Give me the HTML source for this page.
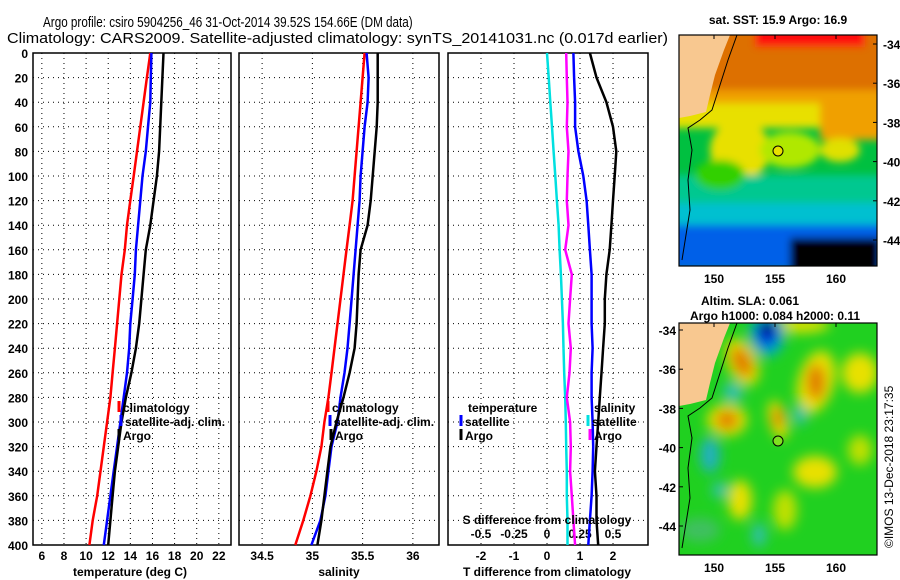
<!DOCTYPE html>
<html><head><meta charset="utf-8">
<style>
html,body{margin:0;padding:0;background:#fff;}
svg{display:block;font-family:"Liberation Sans",Arial,sans-serif;}
.t{font-weight:bold;font-size:12px;fill:#000;}
.g{stroke:#000;stroke-width:1;stroke-dasharray:1,4;}
</style></head>
<body>
<svg id="fig" width="900" height="580" viewBox="0 0 900 580" xmlns="http://www.w3.org/2000/svg">
<defs>
<filter id="blur4" x="-20%" y="-20%" width="140%" height="140%"><feGaussianBlur stdDeviation="4"/></filter>
<filter id="blur6" x="-30%" y="-30%" width="160%" height="160%"><feGaussianBlur stdDeviation="6"/></filter>
<clipPath id="clipM1"><rect x="679" y="35" width="198" height="231"/></clipPath>
<clipPath id="clipM2"><rect x="679" y="323" width="198" height="232"/></clipPath>
</defs>
<text x="0" y="0" font-size="15" transform="translate(43,27) scale(0.78,1)">Argo profile: csiro 5904256_46 31-Oct-2014 39.52S 154.66E (DM data)</text>
<text x="7" y="43" font-size="15" textLength="661" lengthAdjust="spacingAndGlyphs">Climatology: CARS2009. Satellite-adjusted climatology: synTS_20141031.nc (0.017d earlier)</text>
<g id="panels"></g>

<!-- SST map -->
<g>
<g clip-path="url(#clipM1)">
<rect x="679" y="35" width="198" height="231" fill="#00c040"/>
<g filter="url(#blur4)">
<rect x="660" y="20" width="240" height="75" fill="#dd7000"/>
<rect x="755" y="25" width="110" height="22" fill="#ff1010"/>
<rect x="660" y="90" width="240" height="15" fill="#f0a000"/>
<rect x="660" y="103" width="240" height="25" fill="#e8e000"/>
<rect x="820" y="100" width="80" height="40" fill="#f0a000"/>
<ellipse cx="740" cy="150" rx="30" ry="30" fill="#e8e000"/>
<ellipse cx="790" cy="150" rx="30" ry="18" fill="#b0e800"/>
<ellipse cx="840" cy="150" rx="20" ry="12" fill="#e0e000"/>
<rect x="660" y="175" width="240" height="30" fill="#00c890"/>
<ellipse cx="720" cy="175" rx="25" ry="15" fill="#30d000"/>
<rect x="660" y="203" width="240" height="22" fill="#00c0d0"/>
<rect x="660" y="225" width="240" height="45" fill="#0060e8"/>
<rect x="790" y="238" width="90" height="35" fill="#000"/>
</g>
<polygon points="679,35 730,35 724,50 715,75 710,95 706,112 690,116 679,118" fill="#f8c890"/>
<polyline points="737,35 728,60 720,85 712,110 700,120 688,128 692,150 688,180 690,210 682,260" fill="none" stroke="#000" stroke-width="1"/>
</g>
<circle cx="778" cy="151" r="5" fill="#e8e000" stroke="#000" stroke-width="1"/>
<rect x="679" y="35" width="198" height="231" fill="none" stroke="#000" stroke-width="1.2"/>
</g>
<text class="t" x="778" y="24" text-anchor="middle" font-size="13">sat. SST: 15.9 Argo: 16.9</text>

<!-- Altimetry map -->
<g>
<g clip-path="url(#clipM2)">
<rect x="679" y="323" width="198" height="232" fill="#20d020"/>
<g filter="url(#blur6)">
<ellipse cx="800" cy="325" rx="30" ry="8" fill="#e0e000"/>
<ellipse cx="767" cy="335" rx="18" ry="22" fill="#00b0c0"/>
<ellipse cx="767" cy="333" rx="11" ry="14" fill="#0020e0"/>
<ellipse cx="767" cy="328" rx="6" ry="7" fill="#000"/>
<ellipse cx="742" cy="362" rx="15" ry="25" fill="#e8e000" transform="rotate(-25 742 362)"/>
<ellipse cx="742" cy="362" rx="9" ry="16" fill="#e07800" transform="rotate(-25 742 362)"/>
<ellipse cx="816" cy="382" rx="18" ry="32" fill="#e8e000" transform="rotate(15 816 382)"/>
<ellipse cx="816" cy="382" rx="9" ry="18" fill="#e07800"/>
<ellipse cx="727" cy="420" rx="20" ry="16" fill="#e8e000"/>
<ellipse cx="727" cy="420" rx="11" ry="9" fill="#e07800"/>
<ellipse cx="778" cy="420" rx="9" ry="20" fill="#e8e000" transform="rotate(-15 778 420)"/>
<ellipse cx="778" cy="418" rx="5" ry="11" fill="#e07800"/>
<ellipse cx="860" cy="373" rx="18" ry="20" fill="#e8e000"/>
<ellipse cx="815" cy="472" rx="22" ry="16" fill="#e8e000"/>
<ellipse cx="740" cy="500" rx="12" ry="20" fill="#e8e000"/>
<ellipse cx="785" cy="510" rx="12" ry="20" fill="#c0e000"/>
<ellipse cx="860" cy="450" rx="12" ry="15" fill="#c0e000"/>
<ellipse cx="710" cy="455" rx="10" ry="18" fill="#20b0c0"/>
<ellipse cx="733" cy="392" rx="10" ry="10" fill="#30c0b0"/>
<ellipse cx="800" cy="415" rx="7" ry="10" fill="#30c0b0"/>
<ellipse cx="720" cy="490" rx="8" ry="8" fill="#30c0b0"/>
<ellipse cx="759" cy="535" rx="7" ry="12" fill="#30c0b0"/>
<ellipse cx="700" cy="530" rx="20" ry="12" fill="#40c060"/>
</g>
<polygon points="679,323 730,323 724,338 715,363 710,383 706,400 690,404 679,406" fill="#f8c890"/>
<polyline points="737,323 728,348 720,373 712,398 700,408 688,416 692,438 688,468 690,498 682,548" fill="none" stroke="#000" stroke-width="1"/>
</g>
<circle cx="778" cy="441" r="5" fill="#80e020" stroke="#000" stroke-width="1"/>
<rect x="679" y="323" width="198" height="232" fill="none" stroke="#000" stroke-width="1.2"/>
</g>
<text class="t" x="750" y="305" text-anchor="middle" font-size="13">Altim. SLA: 0.061</text>
<text class="t" x="775" y="320" text-anchor="middle" font-size="13">Argo h1000: 0.084 h2000: 0.11</text>
<text x="893" y="548" font-size="12" transform="rotate(-90 893 548)">©IMOS 13-Dec-2018 23:17:35</text>
<g id="maps"></g>
</svg>

<script>
// ---- data ----
var depths = [0,20,40,60,80,100,120,140,160,180,200,220,240,260,280,300,320,340,360,380,400];
var climT = [15.8,15.5,15.2,14.9,14.6,14.3,14.0,13.7,13.5,13.2,13.0,12.8,12.6,12.4,12.2,11.9,11.6,11.3,11.0,10.6,10.3];
var satT  = [15.9,15.85,15.8,15.6,15.4,15.1,14.9,14.7,14.5,14.4,14.2,14.0,13.9,13.7,13.4,13.1,12.8,12.5,12.2,11.9,11.6];
var argoT = [17.0,16.9,16.8,16.7,16.6,16.4,16.1,15.8,15.4,15.2,15.0,14.8,14.5,14.1,13.6,13.2,12.9,12.6,12.4,12.2,12.0];
var climS = [35.52,35.50,35.48,35.46,35.44,35.42,35.40,35.37,35.34,35.31,35.28,35.25,35.22,35.19,35.16,35.12,35.09,35.04,34.98,34.91,34.83];
var satS  = [35.54,35.56,35.55,35.52,35.50,35.48,35.47,35.45,35.43,35.41,35.39,35.37,35.35,35.32,35.28,35.25,35.19,35.16,35.13,35.08,34.99];
var argoS = [35.65,35.65,35.65,35.64,35.62,35.60,35.58,35.55,35.48,35.46,35.45,35.44,35.42,35.37,35.31,35.24,35.18,35.15,35.12,35.09,35.05];
var diffCyan    = [0,0.05,0.1,0.15,0.2,0.25,0.3,0.35,0.38,0.42,0.45,0.48,0.5,0.52,0.55,0.57,0.58,0.6,0.6,0.62,0.62];
var diffMagenta = [0.58,0.6,0.62,0.6,0.65,0.62,0.6,0.65,0.55,0.75,0.7,0.65,0.72,0.68,0.6,0.7,0.72,0.7,0.75,0.8,0.85];
var diffBlue    = [0.8,0.82,0.85,0.85,0.95,1.1,1.2,1.25,1.3,1.35,1.35,1.35,1.38,1.35,1.35,1.38,1.4,1.38,1.35,1.3,1.25];
var diffBlack   = [1.3,1.5,1.8,2.0,2.1,2.05,2.0,1.95,1.9,1.8,1.75,1.75,1.7,1.65,1.6,1.55,1.5,1.45,1.5,1.5,1.55];
var tTicks = [6,8,10,12,14,16,18,20,22];
var sTicks = [34.5,35,35.5,36];
var dTicks = [-2,-1,0,1,2];
var sdTickLabels = ['-0.5','-0.25','0','0.25','0.5'];
var depthTicks = [0,20,40,60,80,100,120,140,160,180,200,220,240,260,280,300,320,340,360,380,400];
var latTicks = [-34,-36,-38,-40,-42,-44];
var lonTicks = [150,155,160];

var NS='http://www.w3.org/2000/svg';
var svg=document.getElementById('fig');
function mk(tag,attrs,parent){var e=document.createElementNS(NS,tag);for(var k in attrs)e.setAttribute(k,attrs[k]);(parent||svg).appendChild(e);return e;}
var top0=53, bot=545;
function yD(d){return top0+(d/400)*(bot-top0);}
var panels=[
 {x0:33,x1:231,lo:5.2,hi:23.1,ticks:tTicks,name:'temperature-panel'},
 {x0:239,x1:439,lo:34.27,hi:36.26,ticks:sTicks,name:'salinity-panel'},
 {x0:448,x1:648,lo:-3.0,hi:3.06,ticks:dTicks,name:'difference-panel'}
];
function xf(p,v){return p.x0+(v-p.lo)/(p.hi-p.lo)*(p.x1-p.x0);}
var pg=document.getElementById('panels');
panels.forEach(function(p,pi){
  var g=mk('g',{},pg);
  
  
  depthTicks.forEach(function(d){
    var y=yD(d);
    if(d>0&&d<400){var l=mk('line',{x1:p.x0,x2:p.x1,y1:y,y2:y,'class':'g'},g);
      
      }
    if(pi===0){var t=mk('text',{x:28,y:y+5,'class':'t','text-anchor':'end'},g);t.textContent=d;
      
      }
  });
  p.ticks.forEach(function(v,i){
    var x=xf(p,v);
    var l=mk('line',{x1:x,x2:x,y1:top0,y2:bot,'class':'g'},g);
    
    
    var t=mk('text',{x:x,y:560,'class':'t','text-anchor':'middle'},g);t.textContent=v;
    
    
    if(pi===2){var t2=mk('text',{x:x,y:538,'class':'t','text-anchor':'middle'},g);t2.textContent=sdTickLabels[i];
      
      }
  });
  var r=mk('rect',{x:p.x0,y:top0,width:p.x1-p.x0,height:bot-top0,fill:'none',stroke:'#000','stroke-width':1.5},g);
  
  
});
function line(p,vals,color,name){
  var pts=vals.map(function(v,i){return xf(p,v).toFixed(1)+','+yD(depths[i]).toFixed(1);}).join(' ');
  var e=mk('polyline',{points:pts,fill:'none',stroke:color,'stroke-width':2.5},pg);
  
  
}
line(panels[0],climT,'#ff0000','clim-temperature-line');
line(panels[0],satT,'#0000ff','satellite-temperature-line');
line(panels[0],argoT,'#000000','argo-temperature-line');
line(panels[1],climS,'#ff0000','clim-salinity-line');
line(panels[1],satS,'#0000ff','satellite-salinity-line');
line(panels[1],argoS,'#000000','argo-salinity-line');
line(panels[2],diffCyan,'#00e0e0','sat-s-diff-line');
line(panels[2],diffMagenta,'#ff00ff','argo-s-diff-line');
line(panels[2],diffBlue,'#0000ff','sat-t-diff-line');
line(panels[2],diffBlack,'#000000','argo-t-diff-line');

function legend(x,y,color,label,name,bar){
  if(bar!==false){var b=mk('line',{x1:x,x2:x,y1:y-11,y2:y,stroke:color,'stroke-width':3},pg);
    
    }
  var t=mk('text',{x:x+4,y:y,'class':'t'},pg);t.textContent=label;
  
  
}
legend(119,412,'#ff0000','climatology','legend-climatology-t');
legend(121,426,'#0000ff','satellite-adj. clim.','legend-satellite-t');
legend(119,440,'#000000','Argo','legend-argo-t');
legend(328,412,'#ff0000','climatology','legend-climatology-s');
legend(330,426,'#0000ff','satellite-adj. clim.','legend-satellite-s');
legend(331,440,'#000000','Argo','legend-argo-s');
legend(464,412,'#fff','temperature','legend-temperature-header',false);
legend(461,426,'#0000ff','satellite','legend-sat-tdiff');
legend(461,440,'#000000','Argo','legend-argo-tdiff');
legend(590,412,'#fff','salinity','legend-salinity-header',false);
legend(588,426,'#00e0e0','satellite','legend-sat-sdiff');
legend(590,440,'#ff00ff','Argo','legend-argo-sdiff');

var axl=[[130,'temperature (deg C)','x-axis-title-temperature'],[339,'salinity','x-axis-title-salinity'],[547,'T difference from climatology','x-axis-title-tdiff']];
axl.forEach(function(a){var t=mk('text',{x:a[0],y:576,'class':'t','text-anchor':'middle'},pg);t.textContent=a[1];
  
  });
var st=mk('text',{x:547,y:524,'class':'t','text-anchor':'middle'},pg);st.textContent='S difference from climatology';



// map ticks
var mg=document.getElementById('maps');
[[35,44,266,true],[323,330,555,false]].forEach(function(m){
  var top=m[0],y34=m[1],bottom=m[2],right=m[3];
  latTicks.forEach(function(lat){
    var y=y34+(-34-lat)*19.6;
    var t=mk('text',right?{x:883,y:y+5,'class':'t'}:{x:676,y:y+5,'class':'t','text-anchor':'end'},mg);t.textContent=lat;
    
    
    var l=mk('line',right?{x1:873,x2:877,y1:y,y2:y,stroke:'#000'}:{x1:679,x2:683,y1:y,y2:y,stroke:'#000'},mg);
    
    
  });
  lonTicks.forEach(function(lon){
    var x=714+(lon-150)*12.2;
    var t=mk('text',{x:x,y:bottom+17,'class':'t','text-anchor':'middle','font-size':13},mg);t.textContent=lon;
    
    
    var l=mk('line',{x1:x,x2:x,y1:top,y2:top+4,stroke:'#000'},mg);
    
    
  });
});
</script>
</body></html>
